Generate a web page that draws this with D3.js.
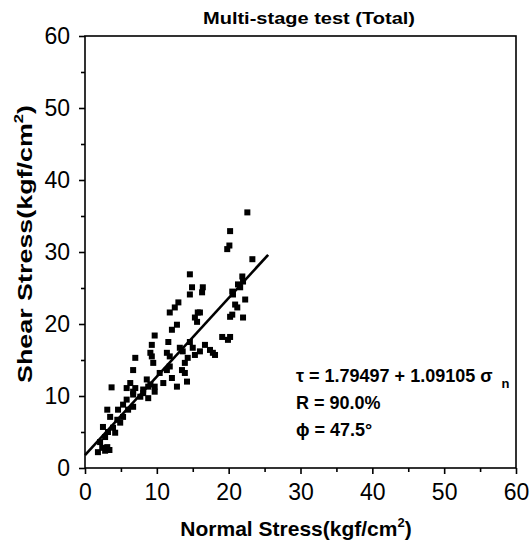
<!DOCTYPE html>
<html><head><meta charset="utf-8">
<script src="https://cdn.jsdelivr.net/npm/d3@7"></script>
<style>body{margin:0;background:#fff} text{font-family:"Liberation Sans",Arial,sans-serif;fill:#000}</style>
</head><body><svg id="c" width="532" height="544"></svg>
<script>
const normalStress = [22.6,20.2,19.8,20.1,23.3,21.9,22.0,21.6,21.3,20.5,20.6,22.3,20.9,21.2,20.5,20.2,22.0,19.1,20.2,19.9,17.8,16.0,16.4,16.3,14.6,14.9,14.6,13.0,12.5,11.8,15.7,15.3,15.6,12.8,12.1,9.7,11.6,14.6,15.0,9.3,9.1,11.4,14.3,13.9,13.9,13.5,12.1,12.8,14.2,10.9,10.4,11.4,11.8,11.8,7.0,9.3,9.5,6.7,8.6,9.1,9.7,5.8,6.7,3.7,8.1,8.8,6.3,7.0,8.1,8.8,9.7,6.7,5.8,7.7,5.3,4.6,6.0,6.7,3.5,3.1,4.5,5.3,2.5,3.2,2.8,2.1,3.1,2.4,1.8,3.9,4.2,4.9,2.8,3.4,16.7,17.4,18.1,16.0,15.3,13.2,13.6];
const shearStress = [35.5,32.9,30.4,30.9,29.0,26.6,25.9,25.1,25.5,24.5,24.1,23.4,22.7,22.3,21.3,21.0,20.9,18.2,18.2,17.8,16.0,21.6,25.1,24.4,26.9,25.1,24.1,23.0,22.3,21.6,21.6,20.9,20.3,19.9,19.2,18.4,17.5,17.5,16.7,17.1,16.0,16.0,15.3,14.6,13.2,13.6,12.5,11.3,12.0,11.8,13.2,13.6,14.1,15.5,15.3,15.5,14.6,13.6,12.3,11.6,11.3,11.1,10.6,11.2,10.4,9.7,11.8,11.1,10.9,11.3,10.6,10.2,9.5,9.9,8.8,8.1,8.1,8.5,7.1,8.1,6.7,7.1,5.7,5.0,4.3,3.6,2.9,2.8,2.2,5.6,4.9,6.3,2.4,2.5,17.1,16.4,15.7,16.2,15.7,16.7,16.2];
const majorTicks = [0,10,20,30,40,50,60];
const minorTicks = [5,15,25,35,45,55];
const fitIntercept = 1.79497;
const fitSlope = 1.09105;
const fitRange = [0, 25.5];
const titleText = "Multi-stage test (Total)";
const xTitle = "Normal Stress(kgf/cm";
const yTitle = "Shear Stress(kgf/cm";
const eqParts = ["τ = 1.79497 + 1.09105 σ", "n"];
const rText = "R = 90.0%";
const phiText = "ϕ = 47.5°";

const svg = d3.select("#c");
const L = 85, R = 516, T = 36, B = 468;
const x = d3.scaleLinear().domain([0, 60]).range([L, R]);
const y = d3.scaleLinear().domain([0, 60]).range([B, T]);

// frame
svg.append("rect").attr("x", L).attr("y", T).attr("width", R - L).attr("height", B - T)
  .attr("fill", "none").attr("stroke", "#000").attr("stroke-width", 1.6);

// axes
function styleAxis(g) {
  g.select(".domain").remove();
  g.selectAll(".tick line").attr("stroke", "#000").attr("stroke-width", 1.6);
  g.selectAll(".tick text").attr("font-size", 23).attr("fill", "#000").attr("font-family", "Liberation Sans, Arial, sans-serif");
}
svg.append("g").attr("transform", `translate(0,${B})`)
  .call(d3.axisBottom(x).tickValues(majorTicks).tickSize(6).tickPadding(10).tickFormat(d3.format("d")))
  .call(styleAxis);
svg.append("g").attr("transform", `translate(0,${B})`)
  .call(d3.axisBottom(x).tickValues(minorTicks).tickSize(4).tickFormat(""))
  .call(styleAxis);
svg.append("g").attr("transform", `translate(${L},0)`)
  .call(d3.axisLeft(y).tickValues(majorTicks).tickSize(6).tickPadding(9).tickFormat(d3.format("d")))
  .call(styleAxis);
svg.append("g").attr("transform", `translate(${L},0)`)
  .call(d3.axisLeft(y).tickValues(minorTicks).tickSize(4).tickFormat(""))
  .call(styleAxis);

// points
const pts = normalStress.map((v, i) => [v, shearStress[i]]);
const s = 6;
svg.append("g").selectAll("rect").data(pts).join("rect")
  .attr("x", d => x(d[0]) - s / 2).attr("y", d => y(d[1]) - s / 2)
  .attr("width", s).attr("height", s).attr("fill", "#000");

// regression line
svg.append("line")
  .attr("x1", x(fitRange[0])).attr("y1", y(fitIntercept + fitSlope * fitRange[0]))
  .attr("x2", x(fitRange[1])).attr("y2", y(fitIntercept + fitSlope * fitRange[1]))
  .attr("stroke", "#000").attr("stroke-width", 2.6);

// title
svg.append("text").attr("x", 203).attr("y", 24).attr("font-size", 16).attr("font-weight", "bold")
  .attr("textLength", 212).attr("lengthAdjust", "spacingAndGlyphs").text(titleText);

// x title
const xt = svg.append("text").attr("x", 296).attr("y", 536).attr("text-anchor", "middle")
  .attr("font-size", 21).attr("font-weight", "bold");
xt.append("tspan").text(xTitle);
xt.append("tspan").attr("font-size", 13).attr("dy", -9).text("2");
xt.append("tspan").attr("dy", 9).text(")");

// y title
const yt = svg.append("text").attr("transform", "translate(32,244) rotate(-90) scale(1.28,1)").attr("text-anchor", "middle")
  .attr("font-size", 21).attr("font-weight", "bold");
yt.append("tspan").text(yTitle);
yt.append("tspan").attr("font-size", 13).attr("dy", -9).text("2");
yt.append("tspan").attr("dy", 9).text(")");

// annotations
const ex = 296;
const eq = svg.append("text").attr("x", ex).attr("y", 382).attr("font-size", 18).attr("font-weight", "bold");
eq.append("tspan").text(eqParts[0]);
eq.append("tspan").attr("font-size", 13).attr("dx", 9).attr("dy", 6).text(eqParts[1]);
svg.append("text").attr("x", ex).attr("y", 409).attr("font-size", 18).attr("font-weight", "bold").text(rText);
svg.append("text").attr("x", ex).attr("y", 436).attr("font-size", 18).attr("font-weight", "bold").text(phiText);
</script>
</body></html>
